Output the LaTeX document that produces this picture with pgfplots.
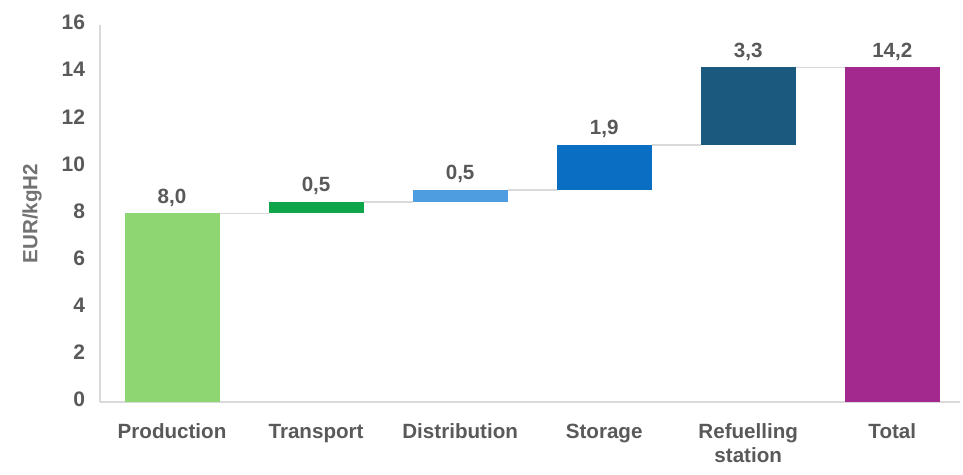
\documentclass[border=0pt]{standalone}
\usepackage{pgfplots}
\pgfplotsset{compat=1.18}
\usepackage{fontspec}
\setmainfont{Liberation Sans}
\definecolor{txt}{HTML}{595959}
\definecolor{cProd}{HTML}{8DD672}
\definecolor{cTrans}{HTML}{0FA64B}
\definecolor{cDist}{HTML}{4D9DE0}
\definecolor{cStor}{HTML}{0A6FC2}
\definecolor{cRef}{HTML}{1B5A7E}
\definecolor{cTot}{HTML}{A3298F}
\definecolor{conn}{HTML}{D9D9D9}
\begin{document}
\begin{tikzpicture}
\useasboundingbox (0,0) rectangle (481.5pt,237.5pt);
\pgfplotsset{common/.style={at={(50pt,36.5pt)}, anchor=south west, scale only axis,
  width=430pt, height=188.5pt, xmin=-0.5, xmax=5.47, ymin=0, ymax=16}}
\begin{axis}[common, ybar stacked, bar width=47.5pt,
  axis x line*=bottom, axis y line*=left,
  axis line style={draw=conn, line width=0.8pt, -},
  major tick length=0pt,
  xtick={0,1,2,3,4,5},
  xticklabels={Production,Transport,Distribution,Storage,{Refuelling\\station},Total},
  typeset ticklabels with strut,
  xticklabel style={font=\fontsize{10.3}{11.8}\selectfont\bfseries\color{txt}, align=center, anchor=north, yshift=-6.5pt},
  ytick={0,2,4,6,8,10,12,14,16},
  yticklabel style={font=\fontsize{10.5}{12}\selectfont\bfseries\color{txt}, xshift=-4pt},
  /pgf/number format/assume math mode=true,
  ylabel={EUR/kgH2},
  ylabel style={font=\fontsize{10.3}{12}\selectfont\bfseries\color{txt!85}, at={(axis description cs:-0.079,0.5)}, anchor=center},
]
\addplot[draw=none, fill=none] coordinates {(0,0)(1,8)(2,8.5)(3,9)(4,10.9)(5,0)};
\addplot[draw=none, fill=cProd]  coordinates {(0,8)(1,0)(2,0)(3,0)(4,0)(5,0)};
\addplot[draw=none, fill=cTrans] coordinates {(0,0)(1,0.5)(2,0)(3,0)(4,0)(5,0)};
\addplot[draw=none, fill=cDist]  coordinates {(0,0)(1,0)(2,0.5)(3,0)(4,0)(5,0)};
\addplot[draw=none, fill=cStor]  coordinates {(0,0)(1,0)(2,0)(3,1.9)(4,0)(5,0)};
\addplot[draw=none, fill=cRef]   coordinates {(0,0)(1,0)(2,0)(3,0)(4,3.3)(5,0)};
\addplot[draw=none, fill=cTot]   coordinates {(0,0)(1,0)(2,0)(3,0)(4,0)(5,14.2)};
\end{axis}
\begin{axis}[common, hide axis]
\addplot[conn, line width=0.8pt] coordinates {(0.33,8)(0.67,8)};
\addplot[conn, line width=0.8pt] coordinates {(1.33,8.5)(1.67,8.5)};
\addplot[conn, line width=0.8pt] coordinates {(2.33,9)(2.67,9)};
\addplot[conn, line width=0.8pt] coordinates {(3.33,10.9)(3.67,10.9)};
\addplot[conn, line width=0.8pt] coordinates {(4.33,14.2)(4.67,14.2)};
\addplot[only marks, mark=none, nodes near coords, point meta=explicit symbolic,
  nodes near coords style={font=\fontsize{10.3}{12}\selectfont\bfseries\color{txt}, anchor=south, yshift=0pt}]
  table[meta=label] {
x y label
0 8.0 {8,0}
1 8.5 {0,5}
2 9.0 {0,5}
3 10.9 {1,9}
4 14.2 {3,3}
5 14.2 {14,2}
};
\end{axis}
\end{tikzpicture}
\end{document}
